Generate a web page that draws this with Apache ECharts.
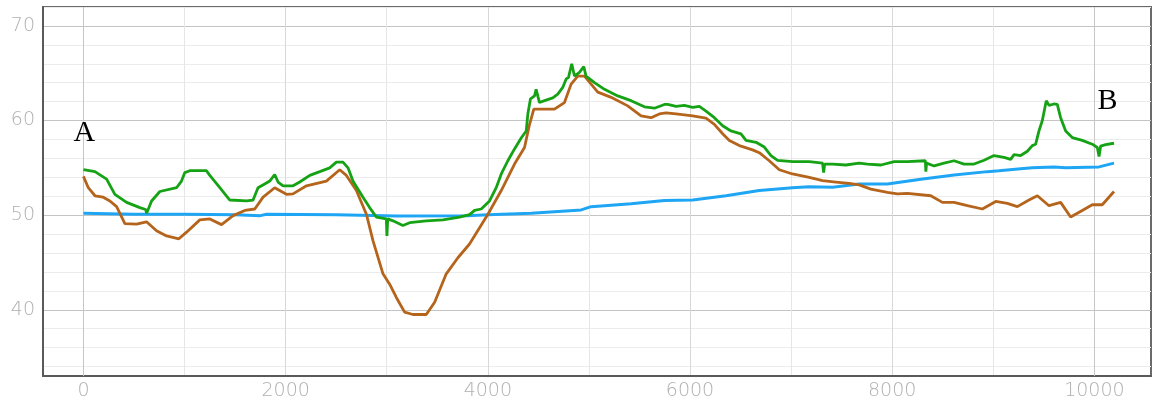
<!DOCTYPE html>
<html>
<head>
<meta charset="utf-8">
<script src="https://cdn.jsdelivr.net/npm/echarts@6/dist/echarts.min.js"></script>
<style>
html,body{margin:0;padding:0;background:#fff;}
#chart{width:1154px;height:404px;}
</style>
</head>
<body>
<div id="chart"></div>
<script>
// ---- data (x = distance, y = value) ----
const greenLine = [
[0,54.8],[114,54.6],[229,53.8],[311,52.2],[427,51.35],[558,50.8],[615,50.6],[625,50.2],[640,50.6],[674,51.5],[756,52.5],[921,52.9],[970,53.6],[1003,54.5],[1052,54.7],[1217,54.7],[1250,54.2],[1349,52.9],[1448,51.6],[1613,51.5],[1678,51.6],[1727,52.9],[1793,53.3],[1843,53.6],[1892,54.3],[1925,53.5],[1975,53.1],[2073,53.1],[2140,53.5],[2239,54.2],[2338,54.6],[2436,55.0],[2502,55.6],[2567,55.6],[2617,55.0],[2666,53.6],[2765,51.9],[2831,50.8],[2897,49.8],[2996,49.6],[3002,47.8],[3010,49.6],[3062,49.4],[3160,48.9],[3227,49.2],[3392,49.4],[3556,49.5],[3721,49.8],[3820,50.05],[3869,50.5],[3935,50.65],[4017,51.5],[4083,52.9],[4133,54.35],[4198,55.75],[4264,57.0],[4330,58.15],[4380,58.9],[4396,60.7],[4422,62.3],[4462,62.6],[4478,63.3],[4511,61.9],[4561,62.1],[4643,62.4],[4692,62.8],[4741,63.5],[4775,64.4],[4798,64.55],[4830,66.0],[4857,64.7],[4906,65.1],[4949,65.7],[4972,64.7],[5055,64.0],[5154,63.3],[5285,62.6],[5417,62.1],[5549,61.45],[5648,61.3],[5747,61.7],[5779,61.7],[5862,61.5],[5944,61.6],[6026,61.4],[6092,61.5],[6158,61.0],[6241,60.3],[6323,59.45],[6405,58.9],[6504,58.6],[6554,57.9],[6653,57.7],[6735,57.2],[6801,56.3],[6866,55.8],[7014,55.65],[7179,55.65],[7311,55.5],[7322,54.5],[7332,55.4],[7410,55.4],[7542,55.3],[7673,55.5],[7755,55.4],[7888,55.3],[8020,55.65],[8151,55.65],[8328,55.75],[8333,54.6],[8340,55.5],[8414,55.2],[8513,55.5],[8612,55.75],[8711,55.4],[8810,55.4],[8909,55.8],[9007,56.3],[9106,56.1],[9172,55.9],[9205,56.4],[9271,56.3],[9337,56.75],[9386,57.35],[9419,57.5],[9452,58.9],[9485,60.0],[9524,62.1],[9551,61.6],[9600,61.75],[9633,61.7],[9666,60.3],[9716,58.9],[9781,58.2],[9880,57.9],[9979,57.5],[10029,57.15],[10046,56.2],[10062,57.3],[10111,57.45],[10194,57.6]
];
const brownLine = [
[0,54.1],[48,52.9],[114,52.05],[196,51.9],[262,51.5],[328,50.9],[410,49.1],[526,49.05],[624,49.3],[723,48.35],[822,47.8],[944,47.5],[1020,48.2],[1151,49.5],[1250,49.6],[1366,49.0],[1480,49.95],[1596,50.5],[1695,50.65],[1777,51.9],[1892,52.9],[2008,52.2],[2073,52.25],[2206,53.1],[2403,53.6],[2535,54.8],[2601,54.2],[2700,52.6],[2799,50.1],[2864,47.3],[2963,43.8],[3029,42.7],[3095,41.3],[3177,39.75],[3259,39.5],[3391,39.5],[3474,40.8],[3589,43.8],[3704,45.5],[3819,46.95],[4001,50.1],[4133,52.6],[4264,55.4],[4363,57.15],[4413,59.6],[4455,61.2],[4659,61.2],[4758,61.9],[4824,63.85],[4890,64.7],[4956,64.7],[5022,63.85],[5088,63.0],[5220,62.45],[5384,61.55],[5516,60.5],[5615,60.3],[5697,60.7],[5763,60.8],[5862,60.7],[6026,60.5],[6158,60.25],[6241,59.6],[6323,58.6],[6389,57.9],[6488,57.35],[6619,56.9],[6685,56.6],[6784,55.75],[6883,54.8],[7014,54.35],[7179,54.0],[7311,53.65],[7443,53.5],[7575,53.35],[7673,53.2],[7789,52.75],[7953,52.4],[8052,52.25],[8151,52.3],[8382,52.05],[8497,51.35],[8612,51.35],[8744,51.0],[8892,50.65],[9024,51.45],[9139,51.25],[9238,50.9],[9353,51.6],[9436,52.05],[9551,51.0],[9666,51.35],[9765,49.8],[9880,50.5],[9979,51.1],[10078,51.1],[10194,52.5]
];
const blueLine = [
[0,50.2],[500,50.1],[1000,50.1],[1500,50.05],[1750,49.95],[1810,50.1],[2500,50.05],[3100,49.9],[3800,49.95],[4000,50.05],[4430,50.2],[4924,50.55],[5022,50.9],[5417,51.2],[5747,51.55],[6026,51.6],[6356,52.05],[6685,52.6],[7014,52.9],[7179,53.0],[7410,52.95],[7673,53.3],[7953,53.3],[8283,53.8],[8612,54.25],[8941,54.6],[9057,54.7],[9271,54.9],[9386,55.0],[9600,55.1],[9716,55.0],[10046,55.1],[10194,55.5]
];
const annotations = [
  {name: 'A', value: [10, 58.7]},
  {name: 'B', value: [10130, 62.1]}
];
const emphasisX = [0, 10000];
const xTickStep = 2000;
const yTickStep = 10;

// ---- chart ----
const T = 'rgba(0,0,0,0)';
const minorH = '#ececec', majorH = '#c4c4c4';
const minorV = '#e6e6e6', majorV = '#d8d8d8';

const chart = echarts.init(document.getElementById('chart'), null, {renderer: 'canvas'});
chart.setOption({
  animation: false,
  backgroundColor: '#fff',
  grid: {left: 43, right: 3, top: 7, bottom: 28, show: true, borderColor: '#6a6a6a', borderWidth: 2, containLabel: false},
  xAxis: {
    type: 'value', min: -400, max: 10560, interval: 200,
    axisLine: {show: true, onZero: false, lineStyle: {color: '#5a5a5a', width: 2}},
    axisTick: {show: false},
    axisLabel: {
      color: '#b0b0b0', fontSize: 19, fontFamily: 'DejaVu Sans', fontWeight: 200, margin: 6,
      formatter: v => (v >= 0 && v % xTickStep === 0) ? String(v) : ''
    },
    splitLine: {show: true, lineStyle: {width: 1, color: [T, T, majorV, T, T, T, T, minorV, T, T]}}
  },
  yAxis: {
    type: 'value', min: 33, max: 72, interval: 1,
    axisLine: {show: true, onZero: false, lineStyle: {color: '#5a5a5a', width: 2}},
    axisTick: {show: false},
    axisLabel: {
      color: '#b0b0b0', fontSize: 19, fontFamily: 'DejaVu Sans', fontWeight: 200, margin: 8,
      formatter: v => (v % yTickStep === 0) ? String(v) : ''
    },
    splitLine: {show: true, lineStyle: {width: 1, color: [T, minorH, T, minorH, T, minorH, T, majorH, T, minorH]}}
  },
  series: [
    {type: 'line', name: 'blue', data: blueLine, showSymbol: false, symbol: 'none', lineStyle: {color: '#1ea6f4', width: 3}, z: 2,
      markLine: {silent: true, symbol: 'none', label: {show: false}, z: 1,
        lineStyle: {color: '#c6c6c6', width: 1, type: 'solid'},
        data: emphasisX.map(v => ({xAxis: v}))}},
    {type: 'line', name: 'brown', data: brownLine, showSymbol: false, symbol: 'none', lineStyle: {color: '#b5641c', width: 2.8}, z: 3},
    {type: 'line', name: 'green', data: greenLine, showSymbol: false, symbol: 'none', lineStyle: {color: '#16a215', width: 2.8}, z: 4},
    {type: 'scatter', name: 'labels', data: annotations, symbolSize: 0, z: 5,
      itemStyle: {opacity: 1},
      label: {show: true, position: 'inside', opacity: 1, formatter: p => p.name, color: '#000000', textBorderWidth: 0, fontSize: 30, fontFamily: 'Liberation Serif'}}
  ]
});
</script>
</body>
</html>
